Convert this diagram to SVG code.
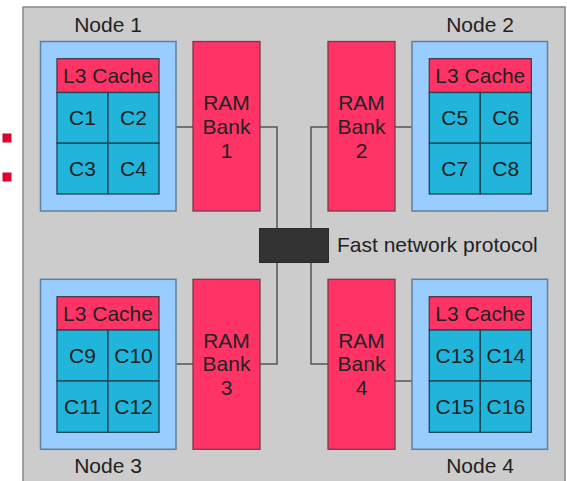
<svg xmlns="http://www.w3.org/2000/svg" width="567" height="481" viewBox="0 0 567 481">
<defs>
<style>
text{font-family:"Liberation Sans",Arial,sans-serif;font-size:21px;fill:#222;text-anchor:middle}
.node{fill:#99ccff;stroke:#5f7f9f;stroke-width:1.5}
.l3{fill:#ff3366;stroke:#4a3a40;stroke-width:1.3}
.ram{fill:#ff3366;stroke:#7a3a4a;stroke-width:1.3}
.core{fill:#22b5dc;stroke:#1d4553;stroke-width:1.3}
.conn{fill:none;stroke:#555;stroke-width:1.5}
.sq{fill:#dd0033}
</style>
</defs>
<rect x="23" y="7" width="542" height="490" fill="#cccccc" stroke="#888" stroke-width="1.5"/>
<rect class="sq" x="2.5" y="133.5" width="9" height="9"/>
<rect class="sq" x="2.5" y="172.5" width="9" height="9"/>

<g id="connectors">
<path class="conn" d="M176,127H193"/>
<path class="conn" d="M260,127H277V229"/>
<path class="conn" d="M328,127H311V229"/>
<path class="conn" d="M395,127H412"/>
<path class="conn" d="M176,364H193"/>
<path class="conn" d="M260,364H277V262"/>
<path class="conn" d="M328,364H311V262"/>
<path class="conn" d="M395,381H412"/>
</g>

<g id="network">
<rect x="259.5" y="228.5" width="69" height="34" fill="#333333" stroke="#2a2a2a" stroke-width="1"/>
<text x="337" y="252" style="text-anchor:start">Fast network protocol</text>
</g>

<g id="node1">
<text x="108" y="32">Node 1</text>
<rect class="node" x="40.5" y="41.5" width="135.5" height="169.5"/>
<rect class="l3" x="57" y="58.7" width="102" height="33.8"/>
<text x="108" y="82.5">L3 Cache</text>
<rect class="core" x="57" y="92.5" width="51" height="50.7"/>
<rect class="core" x="108" y="92.5" width="51" height="50.7"/>
<rect class="core" x="57" y="143.2" width="51" height="50.8"/>
<rect class="core" x="108" y="143.2" width="51" height="50.8"/>
<text x="82.5" y="124.7">C1</text>
<text x="133.5" y="124.7">C2</text>
<text x="82.5" y="175.7">C3</text>
<text x="133.5" y="175.7">C4</text>
</g>

<g id="ram1">
<rect class="ram" x="193" y="41.5" width="67" height="169.5"/>
<text x="226.5" y="110">RAM</text>
<text x="226.5" y="134">Bank</text>
<text x="226.5" y="157.5">1</text>
</g>

<g id="ram2">
<rect class="ram" x="328" y="41.5" width="67" height="169.5"/>
<text x="361.5" y="110">RAM</text>
<text x="361.5" y="134">Bank</text>
<text x="361.5" y="157.5">2</text>
</g>

<g id="node2">
<text x="480" y="32">Node 2</text>
<rect class="node" x="412" y="41.5" width="135.5" height="169.5"/>
<rect class="l3" x="429.3" y="58.7" width="102" height="33.8"/>
<text x="480.3" y="82.5">L3 Cache</text>
<rect class="core" x="429.3" y="92.5" width="51" height="50.7"/>
<rect class="core" x="480.3" y="92.5" width="51" height="50.7"/>
<rect class="core" x="429.3" y="143.2" width="51" height="50.8"/>
<rect class="core" x="480.3" y="143.2" width="51" height="50.8"/>
<text x="454.8" y="124.7">C5</text>
<text x="505.8" y="124.7">C6</text>
<text x="454.8" y="175.7">C7</text>
<text x="505.8" y="175.7">C8</text>
</g>

<g id="node3">
<rect class="node" x="40.5" y="279.3" width="135.5" height="170"/>
<rect class="l3" x="57" y="296.7" width="102" height="33.3"/>
<text x="108" y="321">L3 Cache</text>
<rect class="core" x="57" y="330" width="51" height="51"/>
<rect class="core" x="108" y="330" width="51" height="51"/>
<rect class="core" x="57" y="381" width="51" height="51.3"/>
<rect class="core" x="108" y="381" width="51" height="51.3"/>
<text x="82.5" y="362.7">C9</text>
<text x="133.5" y="362.7">C10</text>
<text x="82.5" y="414">C11</text>
<text x="133.5" y="414">C12</text>
<text x="108" y="473">Node 3</text>
</g>

<g id="ram3">
<rect class="ram" x="193" y="279.3" width="67" height="170"/>
<text x="226.5" y="347.5">RAM</text>
<text x="226.5" y="371">Bank</text>
<text x="226.5" y="394.5">3</text>
</g>

<g id="ram4">
<rect class="ram" x="328" y="279.3" width="67" height="170"/>
<text x="361.5" y="347.5">RAM</text>
<text x="361.5" y="371">Bank</text>
<text x="361.5" y="394.5">4</text>
</g>

<g id="node4">
<rect class="node" x="412" y="279.3" width="135.5" height="170"/>
<rect class="l3" x="429.3" y="296.7" width="102" height="33.3"/>
<text x="480.3" y="321">L3 Cache</text>
<rect class="core" x="429.3" y="330" width="51" height="51"/>
<rect class="core" x="480.3" y="330" width="51" height="51"/>
<rect class="core" x="429.3" y="381" width="51" height="51.3"/>
<rect class="core" x="480.3" y="381" width="51" height="51.3"/>
<text x="454.8" y="362.7">C13</text>
<text x="505.8" y="362.7">C14</text>
<text x="454.8" y="414">C15</text>
<text x="505.8" y="414">C16</text>
<text x="480" y="473">Node 4</text>
</g>
</svg>
